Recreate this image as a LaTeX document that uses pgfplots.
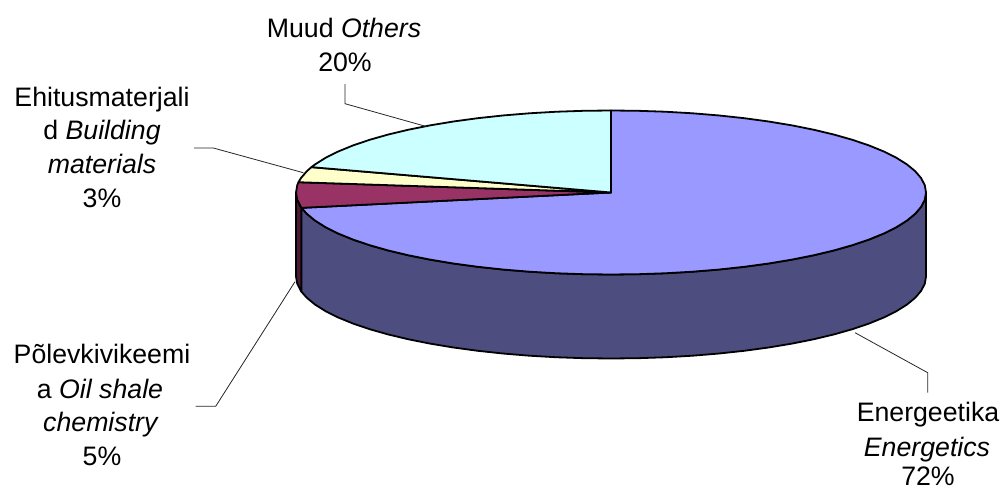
\documentclass[border=0pt]{standalone}
\usepackage{fontspec}
\setmainfont{Liberation Sans}
\usepackage{pgfplots}
\pgfplotsset{compat=1.18}
\definecolor{energy}{HTML}{9999FF}
\definecolor{energydark}{HTML}{4D4D80}
\definecolor{oilshale}{HTML}{993366}
\definecolor{oilshaledark}{HTML}{4D1A33}
\definecolor{building}{HTML}{FFFFCC}
\definecolor{others}{HTML}{CCFFFF}
\pgfplotsset{
  sheet/.style={
    hide axis, clip=false, scale only axis,
    width=1002pt, height=490pt,
    at={(0pt,0pt)}, anchor=south west
  },
  slice/.style={draw=black, line width=1.8pt, line join=round, fill=#1, forget plot}
}
\newcommand{\lab}[3]{\node[anchor=base, inner sep=0pt, font=\fontsize{26.7}{34}\selectfont] at (axis cs:#1,#2) {#3};}
\begin{document}
\begin{tikzpicture}
\path[use as bounding box] (0pt,0pt) rectangle (1002pt,490pt);
% Pie drawn on a unit circle: x spans 315 px per unit, y spans 82 px per unit
\begin{axis}[sheet, xmin=-1.93968, xmax=1.24127, ymin=-3.6280, ymax=2.3476]
% side wall, oil shale sector
\addplot[slice=oilshaledark] coordinates {
 (-.9823,-.1874) (-.9848,-.1736) (-.9962,-.0872) (-1,0)
 (-1,-1.0244) (-.9962,-1.1116) (-.9848,-1.1980) (-.9823,-1.2118)
} -- cycle;
% side wall, energetics sector
\addplot[slice=energydark] coordinates {
 (1,0) (.9962,-.0872) (.9848,-.1736) (.9659,-.2588) (.9397,-.3420) (.9063,-.4226)
 (.8660,-.5) (.8192,-.5736) (.7660,-.6428) (.7071,-.7071) (.6428,-.7660) (.5736,-.8192)
 (.5,-.8660) (.4226,-.9063) (.3420,-.9397) (.2588,-.9659) (.1736,-.9848) (.0872,-.9962)
 (0,-1) (-.0872,-.9962) (-.1736,-.9848) (-.2588,-.9659) (-.3420,-.9397) (-.4226,-.9063)
 (-.5,-.8660) (-.5736,-.8192) (-.6428,-.7660) (-.7071,-.7071) (-.7660,-.6428) (-.8192,-.5736)
 (-.8660,-.5) (-.9063,-.4226) (-.9397,-.3420) (-.9659,-.2588) (-.9823,-.1874)
 (-.9823,-1.2118) (-.9659,-1.2832) (-.9397,-1.3664) (-.9063,-1.4470) (-.8660,-1.5244)
 (-.8192,-1.5980) (-.7660,-1.6672) (-.7071,-1.7315) (-.6428,-1.7904) (-.5736,-1.8436)
 (-.5,-1.8904) (-.4226,-1.9307) (-.3420,-1.9641) (-.2588,-1.9903) (-.1736,-2.0092)
 (-.0872,-2.0206) (0,-2.0244) (.0872,-2.0206) (.1736,-2.0092) (.2588,-1.9903)
 (.3420,-1.9641) (.4226,-1.9307) (.5,-1.8904) (.5736,-1.8436) (.6428,-1.7904)
 (.7071,-1.7315) (.7660,-1.6672) (.8192,-1.5980) (.8660,-1.5244) (.9063,-1.4470)
 (.9397,-1.3664) (.9659,-1.2832) (.9848,-1.1980) (.9962,-1.1116) (1,-1.0244)
} -- cycle;
% top face, energetics 72 %
\addplot[slice=energy] coordinates {
 (0,0) (0,1) (.0872,.9962) (.1736,.9848) (.2588,.9659) (.3420,.9397) (.4226,.9063)
 (.5,.8660) (.5736,.8192) (.6428,.7660) (.7071,.7071) (.7660,.6428) (.8192,.5736)
 (.8660,.5) (.9063,.4226) (.9397,.3420) (.9659,.2588) (.9848,.1736) (.9962,.0872)
 (1,0) (.9962,-.0872) (.9848,-.1736) (.9659,-.2588) (.9397,-.3420) (.9063,-.4226)
 (.8660,-.5) (.8192,-.5736) (.7660,-.6428) (.7071,-.7071) (.6428,-.7660) (.5736,-.8192)
 (.5,-.8660) (.4226,-.9063) (.3420,-.9397) (.2588,-.9659) (.1736,-.9848) (.0872,-.9962)
 (0,-1) (-.0872,-.9962) (-.1736,-.9848) (-.2588,-.9659) (-.3420,-.9397) (-.4226,-.9063)
 (-.5,-.8660) (-.5736,-.8192) (-.6428,-.7660) (-.7071,-.7071) (-.7660,-.6428) (-.8192,-.5736)
 (-.8660,-.5) (-.9063,-.4226) (-.9397,-.3420) (-.9659,-.2588) (-.9823,-.1874)
} -- cycle;
% top face, oil shale chemistry 5 %
\addplot[slice=oilshale] coordinates {
 (0,0) (-.9823,-.1874) (-.9848,-.1736) (-.9962,-.0872) (-1,0) (-.9962,.0872) (-.9921,.1253)
} -- cycle;
% top face, building materials 3 %
\addplot[slice=building] coordinates {
 (0,0) (-.9921,.1253) (-.9848,.1736) (-.9659,.2588) (-.9511,.3090)
} -- cycle;
% top face, others 20 %
\addplot[slice=others] coordinates {
 (0,0) (-.9511,.3090) (-.9397,.3420) (-.9063,.4226) (-.8660,.5) (-.8192,.5736)
 (-.7660,.6428) (-.7071,.7071) (-.6428,.7660) (-.5736,.8192) (-.5,.8660) (-.4226,.9063)
 (-.3420,.9397) (-.2588,.9659) (-.1736,.9848) (-.0872,.9962) (0,1)
} -- cycle;
\end{axis}
% Leader lines and labels, in a pixel grid with y running downwards
\begin{axis}[sheet, xmin=0, xmax=1002, ymin=0, ymax=490, y dir=reverse]
\addplot[black!85, line width=0.8pt, forget plot] coordinates {(345,84) (345,103.7) (427,126.7)};
\addplot[black!85, line width=0.8pt, forget plot] coordinates {(194,148) (213.3,148) (303.3,172.7)};
\addplot[black!85, line width=0.8pt, forget plot] coordinates {(195.7,406.3) (215.7,406.3) (295,281.7)};
\addplot[black!85, line width=0.8pt, forget plot] coordinates {(855,332.7) (927.7,372.7) (927.7,392.7)};
\lab{344}{37}{Muud \textit{Others}}
\lab{345}{71}{20\%}
\lab{102}{106}{Ehitusmaterjali}
\lab{102}{139.5}{d \textit{Building}}
\lab{102}{173}{\textit{materials}}
\lab{102}{207}{3\%}
\lab{102}{363.3}{Põlevkivikeemi}
\lab{100}{398}{a \textit{Oil shale}}
\lab{101}{431.7}{\textit{chemistry}}
\lab{102}{465}{5\%}
\lab{928}{421.7}{Energeetika}
\lab{927}{456}{\textit{Energetics}}
\lab{928}{485}{72\%}
\end{axis}
\end{tikzpicture}
\end{document}
